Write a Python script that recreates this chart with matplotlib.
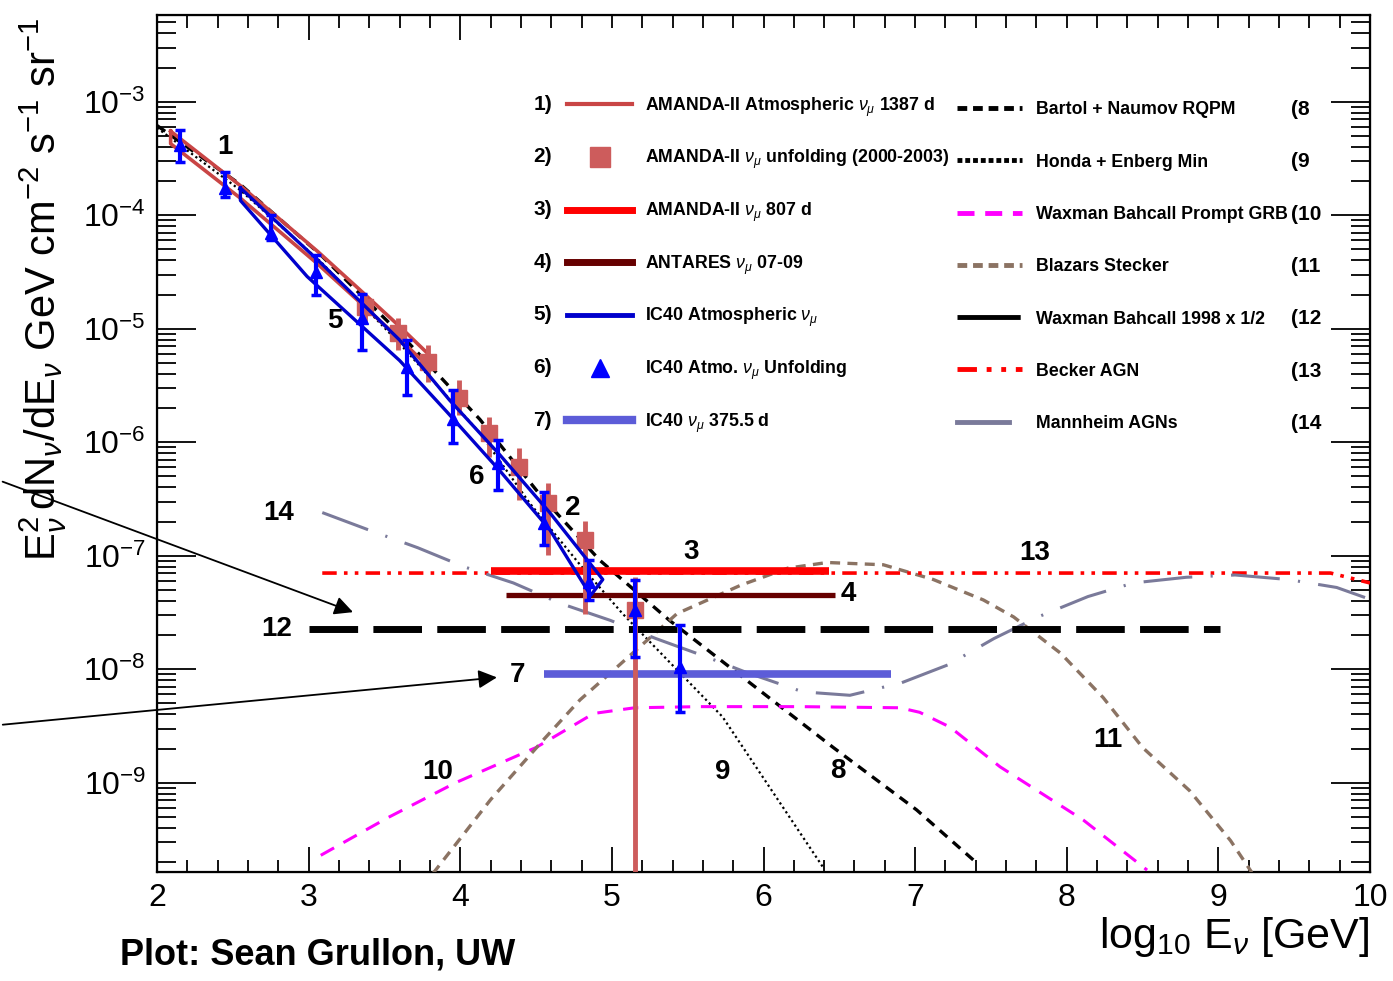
import numpy as np
import matplotlib
matplotlib.use("Agg")
import matplotlib.pyplot as plt
from matplotlib.ticker import MultipleLocator, LogLocator, NullFormatter, LogFormatterMathtext

plt.rcParams['font.family'] = ['Liberation Sans', 'DejaVu Sans']
plt.rcParams['mathtext.fontset'] = 'custom'
plt.rcParams['mathtext.rm'] = 'Liberation Sans'
plt.rcParams['mathtext.it'] = 'Liberation Sans:italic'
plt.rcParams['mathtext.bf'] = 'Liberation Sans:bold'

# ---------------------------------------------------------------
# data (x = log10 E/GeV, y values given as log10 of E^2 dN/dE)
# 1) AMANDA-II atmospheric 1387 d band
amanda_x = [2.09, 2.55, 3.06, 3.34, 3.60, 3.81]
amanda_up = [-3.26, -3.74, -4.32, -4.66, -4.98, -5.25]
amanda_lo = [-3.37, -3.85, -4.43, -4.77, -5.09, -5.36]

# 5) IC40 atmospheric band
ic40_up_x = [2.55, 3.08, 3.60, 3.93, 4.26, 4.59, 4.94]
ic40_up = [-3.76, -4.42, -5.10, -5.63, -6.11, -6.62, -7.21]
ic40_lo_x = [2.55, 2.99, 3.60, 3.91, 4.26, 4.59, 4.86]
ic40_lo = [-3.87, -4.54, -5.28, -5.73, -6.25, -6.77, -7.35]

# 2) AMANDA-II unfolding points
unf_a_x = [3.37, 3.59, 3.79, 3.99, 4.19, 4.39, 4.58, 4.82, 5.15]
unf_a_y = [-4.81, -5.04, -5.29, -5.61, -5.92, -6.22, -6.54, -6.86, -7.48]
unf_a_hi = [-4.69, -4.91, -5.14, -5.45, -5.78, -6.05, -6.36, -6.69, -7.19]
unf_a_lo = [-4.94, -5.19, -5.47, -5.76, -6.13, -6.51, -6.99, -7.51, -10.5]

# 6) IC40 unfolding points
unf_i_x = [2.15, 2.45, 2.75, 3.05, 3.35, 3.65, 3.95, 4.25, 4.55, 4.85, 5.15, 5.45]
unf_i_y = [-3.38, -3.76, -4.16, -4.50, -4.91, -5.34, -5.80, -6.18, -6.71, -7.23, -7.48, -7.98]
unf_i_hi = [-3.25, -3.62, -4.00, -4.35, -4.69, -5.10, -5.54, -5.98, -6.44, -7.04, -7.21, -7.61]
unf_i_lo = [-3.53, -3.84, -4.22, -4.70, -5.19, -5.58, -6.01, -6.42, -6.91, -7.39, -7.89, -8.38]

# 3) 4) 7) 12) flat limits: x start, x end, level
lim3 = (4.20, 6.43, -7.135)
lim4 = (4.30, 6.47, -7.346)
lim7 = (4.55, 6.84, -8.043)
lim12 = (3.00, 9.01, -7.648)

# 8) Bartol + Naumov RQPM
bartol_x = [2.0, 2.55, 3.08, 3.60, 4.13, 4.53, 4.92, 5.38, 5.91, 6.46, 7.01, 7.40]
bartol_y = [-3.21, -3.73, -4.35, -5.04, -5.80, -6.47, -7.04, -7.57, -8.12, -8.69, -9.24, -9.70]

# 9) Honda + Enberg min
honda_x = [2.0, 2.55, 3.08, 3.60, 4.13, 4.46, 4.79, 5.07, 5.73, 6.39]
honda_y = [-3.23, -3.78, -4.41, -5.13, -5.92, -6.54, -7.08, -7.51, -8.42, -9.74]

# 10) Waxman Bahcall prompt GRB
grb_x = [3.08, 3.52, 3.97, 4.50, 4.88, 5.15, 5.58, 6.24, 6.90, 7.03, 7.23, 7.56, 8.11, 8.53]
grb_y = [-9.64, -9.31, -9.00, -8.69, -8.39, -8.34, -8.33, -8.33, -8.34, -8.38, -8.51, -8.86, -9.33, -9.77]

# 11) Blazars Stecker
blazar_x = [3.82, 4.20, 4.55, 4.79, 5.01, 5.43, 5.85, 6.16, 6.42, 6.79, 7.12, 7.45, 7.65,
            7.96, 8.24, 8.50, 8.81, 9.08, 9.22]
blazar_y = [-9.80, -9.15, -8.62, -8.27, -8.01, -7.51, -7.26, -7.11, -7.06, -7.08, -7.21, -7.39,
            -7.54, -7.86, -8.25, -8.69, -9.07, -9.51, -9.79]

# 13) Becker AGN
becker_x = [3.09, 9.74, 10.0]
becker_y = [-7.153, -7.153, -7.24]

# 14) Mannheim AGNs
mann_x = [3.09, 3.39, 3.72, 4.03, 4.35, 4.66, 4.99, 5.29, 5.62, 5.89, 6.26, 6.57, 6.91, 7.22,
          7.52, 7.81, 8.14, 8.44, 8.79, 9.11, 9.46, 9.78, 9.97]
mann_y = [-6.62, -6.77, -6.93, -7.10, -7.24, -7.42, -7.57, -7.73, -7.89, -8.03, -8.20, -8.23,
          -8.12, -7.96, -7.73, -7.54, -7.36, -7.24, -7.19, -7.17, -7.21, -7.28, -7.37]

# curve number labels: text, x, log10 y
curve_tags = [("1", 2.45, -3.40), ("5", 3.17, -4.93), ("6", 4.11, -6.31), ("2", 4.74, -6.58),
              ("3", 5.52, -6.97), ("4", 6.56, -7.34), ("14", 2.80, -6.62), ("12", 2.79, -7.65),
              ("7", 4.38, -8.05), ("13", 7.79, -6.98), ("10", 3.85, -8.91), ("9", 5.73, -8.91),
              ("8", 6.49, -8.90), ("11", 8.27, -8.62)]

left_names = [r"AMANDA-II Atmospheric $\nu_{\mu}$ 1387 d",
              r"AMANDA-II $\nu_{\mu}$ unfolding (2000-2003)",
              r"AMANDA-II $\nu_{\mu}$ 807 d",
              r"ANTARES $\nu_{\mu}$ 07-09",
              r"IC40 Atmospheric $\nu_{\mu}$",
              r"IC40 Atmo. $\nu_{\mu}$ Unfolding",
              r"IC40 $\nu_{\mu}$ 375.5 d"]
right_names = ["Bartol + Naumov RQPM", "Honda + Enberg Min", "Waxman Bahcall Prompt GRB",
               "Blazars Stecker", "Waxman Bahcall 1998 x 1/2", "Becker AGN", "Mannheim AGNs"]

# styles
c_band1 = "#c94545"
c_unf_a = "#cd5c5c"
c_band5 = "#0000cc"
c_unf_i = "#0000ff"
c_lim3 = "#ff0000"
c_lim4 = "#660000"
c_lim7 = "#5c5cd8"
c_grb = "#ff00ff"
c_blazar = "#8b7363"
c_mann = "#7a7a9a"

P = lambda v: 10 ** np.asarray(v, dtype=float)

fig = plt.figure(figsize=(13.93, 9.81), dpi=100)
ax = fig.add_axes([157 / 1393, 1 - 872 / 981, 1213 / 1393, 857 / 981])
ax.set_yscale("log")
ax.set_xlim(2, 10)
ax.set_ylim(10 ** -9.787, 10 ** -2.236)

# bands
ax.plot(np.r_[amanda_x, amanda_x[::-1], amanda_x[0]],
        P(np.r_[amanda_up, amanda_lo[::-1], amanda_up[0]]), color=c_band1, lw=2.6, zorder=4)
ax.plot(np.r_[ic40_up_x, ic40_lo_x[::-1], ic40_up_x[0]],
        P(np.r_[ic40_up, ic40_lo[::-1], ic40_up[0]]), color=c_band5, lw=2.4, zorder=5)

# theory lines
ax.plot(bartol_x, P(bartol_y), color="black", lw=2.4, ls=(0, (3, 2.2)), zorder=3)
ax.plot(honda_x, P(honda_y), color="black", lw=1.6, ls=(0, (1, 1.4)), zorder=3)
ax.plot(grb_x, P(grb_y), color=c_grb, lw=2.2, ls=(0, (5, 3.5)), zorder=3)
ax.plot(blazar_x, P(blazar_y), color=c_blazar, lw=2.4, ls=(0, (3, 2.2)), zorder=3)
ax.plot(becker_x, P(becker_y), color=c_lim3, lw=2.6, ls=(0, (4, 2, 1, 2, 1, 2)), zorder=3)
ax.plot(mann_x, P(mann_y), color=c_mann, lw=2.2, ls=(0, (16, 6, 0.7, 6)), zorder=3)

# limits
ax.plot(lim12[:2], P([lim12[2]] * 2), color="black", lw=5, ls=(0, (7, 2.2)), zorder=3)
ax.plot(lim3[:2], P([lim3[2]] * 2), color=c_lim3, lw=5.5, solid_capstyle="butt", zorder=4)
ax.plot(lim4[:2], P([lim4[2]] * 2), color=c_lim4, lw=3.8, solid_capstyle="butt", zorder=4)
ax.plot(lim7[:2], P([lim7[2]] * 2), color=c_lim7, lw=5.5, solid_capstyle="butt", zorder=4)

# unfolding points
ya = P(unf_a_y)
ax.errorbar(unf_a_x, ya, yerr=[ya - P(unf_a_lo), P(unf_a_hi) - ya], fmt="s", color=c_unf_a,
            ms=11, elinewidth=3.5, capsize=0, zorder=4)
yi = P(unf_i_y)
ax.errorbar(unf_i_x, yi, yerr=[yi - P(unf_i_lo), P(unf_i_hi) - yi], fmt="^", color=c_unf_i,
            ms=9, elinewidth=3, capsize=3.5, capthick=2.5, zorder=6)

for t, x, y in curve_tags:
    ax.text(x, 10 ** y, t, fontsize=20, fontweight="bold", ha="center", va="center", zorder=7)

# arrows from outside the frame
ax.annotate("", xy=(3.31, 10 ** -7.506), xycoords="data", xytext=(0.0, 0.51),
            textcoords="figure fraction",
            arrowprops=dict(arrowstyle="-|>", color="black", lw=1.3, mutation_scale=28),
            annotation_clip=False)
ax.annotate("", xy=(4.26, 10 ** -8.07), xycoords="data", xytext=(0.0, 0.261),
            textcoords="figure fraction",
            arrowprops=dict(arrowstyle="-|>", color="black", lw=1.3, mutation_scale=28),
            annotation_clip=False)

# legend, drawn by hand in axes coordinates
tr = ax.transAxes
hy = [0.896 - 0.0615 * i for i in range(7)]
for i, name in enumerate(left_names):
    ax.text(0.3256, hy[i], f"{i + 1})", transform=tr, fontsize=15, fontweight="bold",
            ha="right", va="center")
    ax.text(0.4023, hy[i] - 0.0075, name, transform=tr, fontsize=12.8, fontweight="bold",
            ha="left", va="baseline")
hx = [0.338, 0.3916]
ax.plot(hx, [hy[0]] * 2, transform=tr, color=c_band1, lw=3, clip_on=False)
ax.plot([0.365], [hy[1]], transform=tr, marker="s", color=c_unf_a, ms=14, clip_on=False)
ax.plot(hx, [hy[2]] * 2, transform=tr, color=c_lim3, lw=5, clip_on=False)
ax.plot(hx, [hy[3]] * 2, transform=tr, color=c_lim4, lw=5, clip_on=False)
ax.plot(hx, [hy[4]] * 2, transform=tr, color=c_band5, lw=3.5, clip_on=False)
ax.plot([0.365], [hy[5]], transform=tr, marker="^", color=c_unf_i, ms=13, clip_on=False)
ax.plot(hx, [hy[6]] * 2, transform=tr, color=c_lim7, lw=6, clip_on=False)

rx = [0.6595, 0.7131]
ry = [0.8915 - 0.061 * i for i in range(7)]
for i, name in enumerate(right_names):
    ax.text(0.7247, ry[i] - 0.0075, name, transform=tr, fontsize=12.8, fontweight="bold",
            ha="left", va="baseline")
    ax.text(0.935, ry[i] - 0.002, f"({i + 8}", transform=tr, fontsize=15, fontweight="bold",
            ha="left", va="center")
ax.plot(rx, [ry[0]] * 2, transform=tr, color="black", lw=3.5, ls=(0, (2, 1.2)), clip_on=False)
ax.plot(rx, [ry[1]] * 2, transform=tr, color="black", lw=3.5, ls=(0, (1, 0.6)), clip_on=False)
ax.plot(rx, [ry[2]] * 2, transform=tr, color=c_grb, lw=3.5, ls=(0, (3.5, 2.2)), clip_on=False)
ax.plot(rx, [ry[3]] * 2, transform=tr, color=c_blazar, lw=3.5, ls=(0, (2, 1.2)), clip_on=False)
ax.plot(rx, [ry[4]] * 2, transform=tr, color="black", lw=3.5, ls=(0, (13, 3, 1, 3)), clip_on=False)
ax.plot(rx, [ry[5]] * 2, transform=tr, color=c_lim3, lw=3.5, ls=(0, (4, 2, 1, 2, 1, 2)), clip_on=False)
ax.plot([rx[0], rx[0] + 0.043], [ry[6]] * 2, transform=tr, color=c_mann, lw=3.5, clip_on=False)

# axes styling (ROOT-like)
ax.xaxis.set_major_locator(MultipleLocator(1))
ax.xaxis.set_minor_locator(MultipleLocator(0.2))
ax.yaxis.set_major_locator(LogLocator(base=10, numticks=20))
ax.yaxis.set_minor_locator(LogLocator(base=10, subs=np.arange(2, 10), numticks=20))
ax.yaxis.set_minor_formatter(NullFormatter())
ax.yaxis.set_major_formatter(LogFormatterMathtext())
ax.tick_params(axis="x", which="major", direction="in", length=18, width=1.3,
               labelsize=23, pad=8, top=False)
ax.tick_params(axis="x", which="minor", direction="in", length=9, width=1.3, top=False)
ax.tick_params(axis="y", which="major", direction="in", length=28, width=1.3,
               labelsize=23, pad=8, right=True)
ax.tick_params(axis="y", which="minor", direction="in", length=14, width=1.3, right=True)
for s in ax.spines.values():
    s.set_linewidth(1.6)

ax_top = ax.twiny()
ax_top.set_xlim(ax.get_xlim())
ax_top.set_xticks([3, 4])
ax_top.xaxis.set_minor_locator(MultipleLocator(0.2))
ax_top.tick_params(axis="x", which="major", direction="in", length=18, width=1.3, labeltop=False)
ax_top.tick_params(axis="x", which="minor", direction="in", length=9, width=1.3)

fig.text(0.031, 0.982,
         r"$\mathrm{E}_{\nu}^{2}\,\mathrm{dN}_{\nu}/\mathrm{dE}_{\nu}$ GeV cm$^{-2}$ s$^{-1}$ sr$^{-1}$",
         rotation=90, ha="center", va="top", fontsize=30)
fig.text(0.983, 0.022, r"log$_{10}$ E$_{\nu}$ [GeV]", ha="right", va="bottom", fontsize=31)
fig.text(0.086, 0.017, "Plot: Sean Grullon, UW", ha="left", va="baseline", fontsize=26,
         fontweight="bold")

fig.savefig("out.png", dpi=100)
